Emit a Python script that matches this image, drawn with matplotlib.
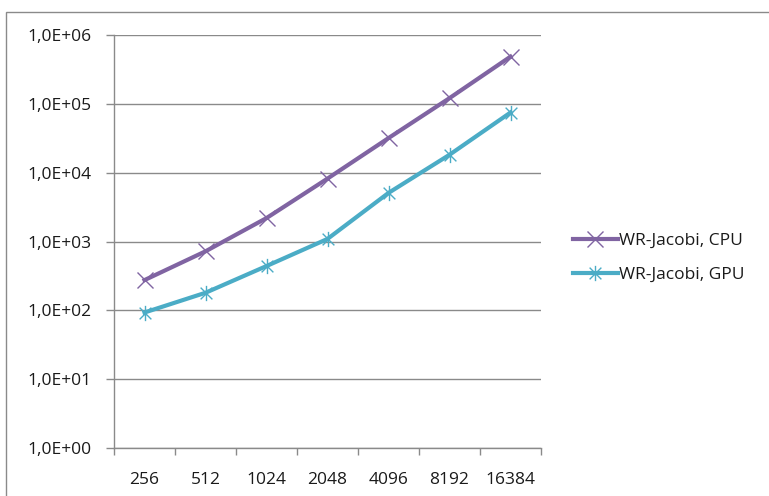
import matplotlib
matplotlib.use("Agg")
import matplotlib.pyplot as plt
from matplotlib.path import Path
from matplotlib.patches import Rectangle
from matplotlib.ticker import FixedLocator, FuncFormatter

sizes = ["256", "512", "1024", "2048", "4096", "8192", "16384"]
cpu_times = [275, 720, 2190, 8200, 31800, 121000, 485000]
gpu_times = [93, 180, 440, 1090, 5080, 18200, 74800]
series_labels = ["WR-Jacobi, CPU", "WR-Jacobi, GPU"]
y_ticks = [1e0, 1e1, 1e2, 1e3, 1e4, 1e5, 1e6]

plt.rcParams["font.family"] = ["Open Sans", "DejaVu Sans"]
FS = 12.5

W, H = 769, 496
fig = plt.figure(figsize=(W / 100, H / 100), dpi=100)

# chart outer border
fig.patches.append(Rectangle((6 / W, -0.1), 1.2, 1 - 12 / H + 0.1,
                             transform=fig.transFigure, fill=False,
                             edgecolor="#8a8a8a", linewidth=1.0))

ax = fig.add_axes([114 / W, 1 - 448 / H, (541 - 114) / W, (448 - 35) / H])

# asterisk marker: x plus vertical stroke
star_path = Path(
    [(-1, -1), (1, 1), (-1, 1), (1, -1), (0, -1.3), (0, 1.3)],
    [Path.MOVETO, Path.LINETO, Path.MOVETO, Path.LINETO, Path.MOVETO, Path.LINETO],
)

x = list(range(len(sizes)))
ax.plot(x, cpu_times, color="#8064A2", linewidth=3, marker="x",
        markersize=11, markeredgewidth=1.0, label=series_labels[0],
        solid_joinstyle="round", zorder=3)
ax.plot(x, gpu_times, color="#4BACC6", linewidth=3, marker=star_path,
        markersize=11, markeredgewidth=1.0, label=series_labels[1],
        solid_joinstyle="round", zorder=3)

ax.set_yscale("log")
ax.set_ylim(1e0, 1e6)
ax.set_xlim(-0.5, len(sizes) - 0.5)

ax.yaxis.set_major_locator(FixedLocator(y_ticks))
ax.yaxis.set_minor_locator(FixedLocator([]))
ax.yaxis.set_major_formatter(FuncFormatter(
    lambda v, p: ("%.1E" % v).replace(".", ",")))
ax.grid(axis="y", color="#8a8a8a", linewidth=1.0)
ax.set_axisbelow(True)

ax.set_xticks(x)
ax.set_xticklabels(sizes)
ax.xaxis.set_minor_locator(FixedLocator([i - 0.5 for i in range(len(sizes) + 1)]))
ax.tick_params(axis="x", which="major", length=0, pad=17, labelsize=FS,
               colors="#1a1a1a")
ax.tick_params(axis="x", which="minor", length=5, width=1, color="#8a8a8a",
               direction="out")
ax.tick_params(axis="y", which="major", length=6, width=1, color="#8a8a8a",
               direction="out", labelsize=FS, pad=10, labelcolor="#1a1a1a")

for side in ("top", "right"):
    ax.spines[side].set_visible(False)
for side in ("left", "bottom"):
    ax.spines[side].set_color("#8a8a8a")
    ax.spines[side].set_linewidth(1.0)

ax.legend(loc="center left", bbox_to_anchor=(557 / W, 1 - 258 / H),
          bbox_transform=fig.transFigure, frameon=False, fontsize=FS,
          handlelength=2.6, handletextpad=0.05, labelspacing=1.0,
          labelcolor="#1a1a1a")

fig.savefig("out.png", dpi=100)
